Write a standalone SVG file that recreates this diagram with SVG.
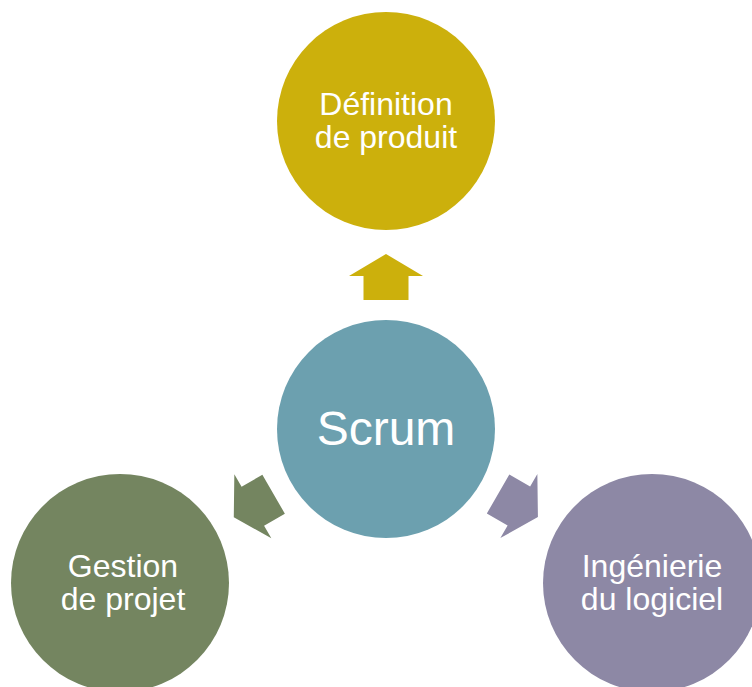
<svg xmlns="http://www.w3.org/2000/svg" width="752" height="687" viewBox="0 0 752 687">
<style>
text{font-family:"Liberation Sans",Arial,sans-serif;fill:#ffffff;text-anchor:middle}
.lbl{font-size:32px}
</style>
<defs>
<path id="arr" d="M0,-23 L37,-1 L22.5,-1 L22.5,23 L-22.5,23 L-22.5,-1 L-37,-1 Z"/>
</defs>
<rect width="752" height="687" fill="#ffffff"/>
<g id="connectors">
<use href="#arr" transform="translate(386,277)" fill="#CCB00C"/>
<use href="#arr" transform="translate(253.7,505.7) rotate(-120)" fill="#748560"/>
<use href="#arr" transform="translate(518,505.5) rotate(120)" fill="#8D88A5"/>
</g>
<g id="definition">
<circle cx="386" cy="121" r="109" fill="#CCB00C"/>
<text class="lbl" x="386" y="115">Définition</text>
<text class="lbl" x="386" y="148">de produit</text>
</g>
<g id="scrum">
<circle cx="386" cy="429" r="109" fill="#6CA0AF"/>
<text x="386" y="445" font-size="48">Scrum</text>
</g>
<g id="gestion">
<circle cx="120" cy="583" r="109" fill="#748560"/>
<text class="lbl" x="123" y="577">Gestion</text>
<text class="lbl" x="123" y="610">de projet</text>
</g>
<g id="ingenierie">
<circle cx="652" cy="583" r="109" fill="#8D88A5"/>
<text class="lbl" x="652" y="577">Ingénierie</text>
<text class="lbl" x="652" y="610">du logiciel</text>
</g>
</svg>
